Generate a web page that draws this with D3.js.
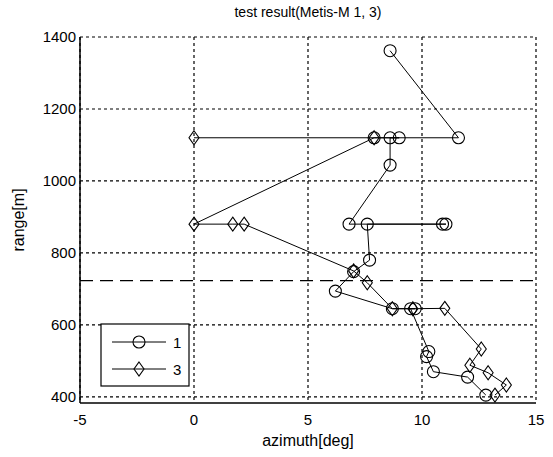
<!DOCTYPE html>
<html>
<head>
<meta charset="UTF-8">
<script src="https://d3js.org/d3.v7.min.js"></script>
<style>
  body { margin: 0; background: #fff; }
  text { font-family: "Liberation Sans", Arial, sans-serif; fill: #000; }
</style>
</head>
<body>
<div id="chart"></div>
<script>
// series 1 (circles) : [azimuth, range]
const series1 = [
  [8.6, 1362], [11.6, 1120], [7.9, 1120], [9.0, 1120], [8.6, 1120],
  [8.6, 1044], [6.8, 880], [11.05, 880], [10.9, 880], [7.6, 880],
  [7.7, 780], [7.0, 748], [6.2, 694], [8.7, 645], [9.7, 645],
  [9.5, 645], [10.3, 526], [10.2, 512], [10.5, 470], [12.0, 455], [12.8, 405]
];
// series 3 (diamonds)
const series3 = [
  [0, 1120], [7.9, 1120], [0, 880], [1.7, 880], [2.2, 880], [7.0, 750],
  [7.6, 717], [8.7, 645], [9.6, 645], [11.0, 646], [12.6, 533],
  [12.1, 488], [12.9, 467], [13.7, 433], [13.2, 405]
];
const xTicks = [-5, 0, 5, 10, 15];
const yTicks = [400, 600, 800, 1000, 1200, 1400];
const threshold = 723;
const legendLabels = ["1", "3"];

const width = 553, height = 457;
const mLeft = 80, mRight = 536, mTop = 37, mBottom = 403;

const svg = d3.select("#chart").append("svg")
  .attr("width", width).attr("height", height);

const x = d3.scaleLinear().domain([-5, 15]).range([mLeft, mRight]);
const y = d3.scaleLinear().domain([383, 1400]).range([mBottom, mTop]);

// grid (dotted)
const grid = svg.append("g").attr("stroke", "#000").attr("stroke-width", 1.2)
  .attr("stroke-dasharray", "3,3");
xTicks.forEach(t => grid.append("line")
  .attr("x1", x(t)).attr("x2", x(t)).attr("y1", mTop).attr("y2", mBottom));
yTicks.forEach(t => grid.append("line")
  .attr("x1", mLeft).attr("x2", mRight).attr("y1", y(t)).attr("y2", y(t)));

// solid left and bottom axes
svg.append("line").attr("x1", mLeft).attr("x2", mLeft).attr("y1", mTop).attr("y2", mBottom)
  .attr("stroke", "#000").attr("stroke-width", 1.5);
svg.append("line").attr("x1", mLeft).attr("x2", mRight).attr("y1", mBottom).attr("y2", mBottom)
  .attr("stroke", "#000").attr("stroke-width", 1.5);

// tick labels
svg.append("g").selectAll("text").data(xTicks).enter().append("text")
  .attr("x", d => x(d)).attr("y", mBottom + 22)
  .attr("text-anchor", "middle").attr("font-size", 15)
  .text(d => d);
svg.append("g").selectAll("text").data(yTicks).enter().append("text")
  .attr("x", mLeft - 4).attr("y", d => y(d) + 5)
  .attr("text-anchor", "end").attr("font-size", 15)
  .text(d => d);

// dashed threshold line
svg.append("line")
  .attr("x1", mLeft).attr("x2", mRight).attr("y1", y(threshold)).attr("y2", y(threshold))
  .attr("stroke", "#000").attr("stroke-width", 1.2).attr("stroke-dasharray", "13,7");

const line = d3.line().x(d => x(d[0])).y(d => y(d[1]));

function circleMark(g, cx, cy) {
  g.append("circle").attr("cx", cx).attr("cy", cy).attr("r", 6)
    .attr("fill", "none").attr("stroke", "#000").attr("stroke-width", 1.1);
}
function diamondMark(g, cx, cy) {
  g.append("path")
    .attr("d", `M${cx},${cy - 7}L${cx + 5},${cy}L${cx},${cy + 7}L${cx - 5},${cy}Z`)
    .attr("fill", "none").attr("stroke", "#000").attr("stroke-width", 1.1);
}

const plot = svg.append("g");
[[series1, circleMark], [series3, diamondMark]].forEach(([data, mark]) => {
  plot.append("path").datum(data).attr("d", line)
    .attr("fill", "none").attr("stroke", "#000").attr("stroke-width", 1);
  data.forEach(d => mark(plot, x(d[0]), y(d[1])));
});

// legend
const lg = svg.append("g");
lg.append("rect").attr("x", 101).attr("y", 324).attr("width", 88).attr("height", 62)
  .attr("fill", "#fff").attr("stroke", "#000").attr("stroke-width", 1.2);
const marks = [circleMark, diamondMark];
legendLabels.forEach((lab, i) => {
  const ly = 342 + i * 27;
  lg.append("line").attr("x1", 112).attr("x2", 166).attr("y1", ly).attr("y2", ly)
    .attr("stroke", "#000").attr("stroke-width", 1);
  marks[i](lg, 139, ly);
  lg.append("text").attr("x", 173).attr("y", ly + 6).attr("font-size", 15).text(lab);
});

// titles
svg.append("text").attr("x", 308).attr("y", 17).attr("text-anchor", "middle")
  .attr("font-size", 14).text("test result(Metis-M 1, 3)");
svg.append("text").attr("x", 308).attr("y", 446).attr("text-anchor", "middle")
  .attr("font-size", 16).text("azimuth[deg]");
svg.append("text").attr("transform", `translate(24,${(mTop + mBottom) / 2}) rotate(-90)`)
  .attr("text-anchor", "middle").attr("font-size", 16).text("range[m]");
</script>
</body>
</html>
